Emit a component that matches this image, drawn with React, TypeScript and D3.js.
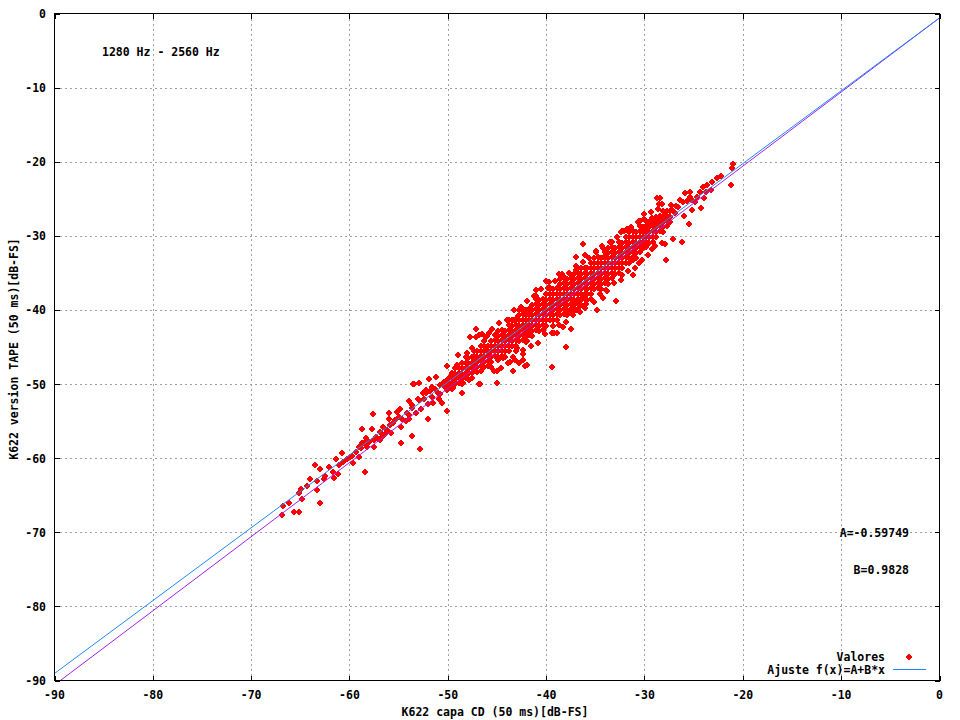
import React from 'react';
import * as d3 from 'd3';

const xTicks = [-90, -80, -70, -60, -50, -40, -30, -20, -10, 0];
const yTicks = [0, -10, -20, -30, -40, -50, -60, -70, -80, -90];
const fitA = -0.59749;
const fitB = 0.9828;
const refSlope = 1;
const titleText = '1280 Hz - 2560 Hz';
const xLabel = 'K622 capa CD (50 ms)[dB-FS]';
const yLabel = 'K622 version TAPE (50 ms)[dB-FS]';
const legendPoints = 'Valores';
const legendFit = 'Ajuste f(x)=A+B*x';

// [CD level, TAPE level]
const lowerTail: [number, number][] = [
  [-66.9, -67.7], [-65.1, -67.3], [-65.6, -67.3], [-66.8, -66.4], [-66.2, -66.1], [-64.8, -65.5], [-63.0, -66.1],
  [-65.1, -64.7], [-64.9, -64.2], [-64.3, -63.8], [-64.0, -62.8], [-63.3, -63.1], [-63.3, -64.3], [-63.5, -60.9],
  [-63.0, -61.5], [-62.1, -61.2], [-61.7, -61.8], [-61.2, -62.2], [-61.6, -62.7], [-62.5, -62.4], [-62.6, -62.8],
  [-61.4, -60.1], [-61.1, -60.9], [-60.7, -60.5], [-60.8, -59.3], [-60.3, -60.1], [-59.9, -59.9], [-59.6, -60.7],
  [-59.0, -59.9], [-58.4, -61.9], [-58.8, -58.6], [-58.5, -58.0], [-57.5, -58.5], [-59.7, -59.7], [-59.3, -59.2],
  [-59.0, -58.5], [-58.7, -58.0], [-58.2, -58.5], [-58.0, -57.8], [-57.5, -57.6], [-57.3, -57.2], [-56.7, -57.2],
  [-56.9, -56.5], [-58.7, -56.1], [-57.7, -56.1], [-58.3, -57.3], [-57.6, -54.1], [-56.2, -56.2], [-56.6, -55.8],
  [-55.9, -55.5], [-56.0, -54.7], [-55.4, -54.9], [-55.6, -55.3], [-56.0, -53.9], [-55.2, -53.8],
];

const lowerBand: [number, number][] = [
  [-54.9, -53.4], [-54.7, -54.7], [-54.8, -55.8], [-54.2, -53.9], [-53.9, -52.3], [-53.6, -52.8], [-53.6, -53.2],
  [-54.0, -54.7], [-53.6, -57.0], [-53.2, -53.9], [-52.9, -52.2], [-52.7, -53.4], [-52.9, -49.9], [-53.5, -50.0],
  [-52.0, -52.7], [-52.0, -54.7], [-52.5, -51.2], [-52.2, -50.8], [-52.2, -51.2], [-51.9, -49.3], [-51.6, -50.4],
  [-51.6, -51.8], [-51.2, -49.1], [-50.8, -50.1], [-50.8, -51.4], [-50.6, -52.6], [-50.1, -53.6], [-50.1, -50.8],
  [-50.1, -47.6], [-49.5, -50.5], [-49.1, -47.4], [-49.1, -49.1], [-49.0, -46.1], [-48.6, -51.2], [-48.5, -49.9],
  [-48.3, -48.8], [-48.1, -45.8], [-47.8, -48.5], [-47.8, -49.5], [-47.5, -45.1], [-47.1, -43.6], [-47.1, -47.7],
  [-46.7, -50.0], [-46.5, -43.2], [-46.5, -46.8], [-46.1, -45.4], [-46.0, -43.5], [-54.8, -58.0], [-52.8, -58.8],
  [-53.4, -50.0], [-46.8, -50.0], [-53.0, -52.0], [-52.4, -52.0], [-51.8, -51.0], [-51.3, -50.6], [-51.0, -51.2],
  [-50.4, -49.7], [-50.3, -50.4], [-49.8, -49.0], [-49.9, -50.0], [-49.4, -49.6], [-51.5, -52.6], [-50.9, -52.0],
  [-54.3, -55.0], [-53.9, -54.2], [-55.0, -54.5], [-55.8, -56.6], [-56.4, -56.8], [-56.9, -57.6],
];

// CD level and the TAPE levels measured at it (dense part of the cloud)
const coreBand: [number, number[]][] = [
  [-50.0, [-49.3, -50.0, -50.7]],
  [-49.6, [-48.5, -49.2, -49.9, -50.6]],
  [-49.3, [-47.9, -48.6, -49.3, -50.0]],
  [-48.9, [-47.8, -48.5, -49.2, -49.9]],
  [-48.6, [-47.2, -47.9, -48.6, -49.3, -50.0]],
  [-48.2, [-46.4, -47.1, -47.8, -48.5, -49.2]],
  [-47.9, [-46.5, -47.2, -47.9, -48.6, -49.3]],
  [-47.5, [-46.4, -47.1, -47.8, -48.5, -49.2]],
  [-47.3, [-45.5, -46.2, -46.9, -47.6, -48.3]],
  [-47.0, [-45.6, -46.3, -47.0, -47.7, -48.4]],
  [-46.6, [-44.8, -45.5, -46.2, -46.9, -47.6, -48.3]],
  [-46.3, [-44.2, -44.9, -45.6, -46.3, -47.0, -47.7]],
  [-45.9, [-44.8, -45.5, -46.2, -46.9, -47.6]],
  [-45.6, [-44.2, -44.9, -45.6, -46.3, -47.0, -47.7]],
  [-45.2, [-43.4, -44.1, -44.8, -45.5, -46.2]],
  [-44.9, [-42.8, -43.5, -44.2, -44.9, -45.6, -46.3]],
  [-44.5, [-42.7, -43.4, -44.1, -44.8, -45.5, -46.2]],
  [-44.2, [-42.8, -43.5, -44.2, -44.9, -45.6, -46.3]],
  [-43.8, [-41.3, -42.0, -42.7, -43.4, -44.1, -44.8, -45.5]],
  [-43.5, [-41.4, -42.1, -42.8, -43.5, -44.2, -44.9]],
  [-43.1, [-41.3, -42.0, -42.7, -43.4, -44.1, -44.8, -45.5]],
  [-42.8, [-40.0, -40.7, -41.4, -42.1, -42.8, -43.5, -44.2]],
  [-42.4, [-39.9, -40.6, -41.3, -42.0, -42.7, -43.4, -44.1]],
  [-42.1, [-40.0, -40.7, -41.4, -42.1, -42.8, -43.5, -44.2]],
  [-41.7, [-39.9, -40.6, -41.3, -42.0, -42.7, -43.4]],
  [-41.4, [-39.3, -40.0, -40.7, -41.4, -42.1, -42.8, -43.5]],
  [-41.0, [-38.5, -39.2, -39.9, -40.6, -41.3, -42.0, -42.7]],
  [-40.7, [-38.6, -39.3, -40.0, -40.7, -41.4, -42.1, -42.8]],
  [-40.3, [-38.5, -39.2, -39.9, -40.6, -41.3, -42.0, -42.7]],
  [-40.0, [-37.9, -38.6, -39.3, -40.0, -40.7, -41.4, -42.1]],
  [-39.6, [-37.1, -37.8, -38.5, -39.2, -39.9, -40.6, -41.3]],
  [-39.3, [-37.2, -37.9, -38.6, -39.3, -40.0, -40.7, -41.4, -42.1]],
  [-38.9, [-37.1, -37.8, -38.5, -39.2, -39.9, -40.6, -41.3]],
  [-38.6, [-35.8, -36.5, -37.2, -37.9, -38.6, -39.3, -40.0, -40.7]],
  [-38.2, [-35.7, -36.4, -37.1, -37.8, -38.5, -39.2, -39.9, -40.6]],
  [-37.9, [-35.8, -36.5, -37.2, -37.9, -38.6, -39.3, -40.0, -40.7]],
  [-37.5, [-35.7, -36.4, -37.1, -37.8, -38.5, -39.2, -39.9]],
  [-37.2, [-35.1, -35.8, -36.5, -37.2, -37.9, -38.6, -39.3]],
  [-36.8, [-34.3, -35.0, -35.7, -36.4, -37.1, -37.8, -38.5, -39.2, -39.9]],
  [-36.5, [-34.4, -35.1, -35.8, -36.5, -37.2, -37.9, -38.6, -39.3]],
  [-36.1, [-34.3, -35.0, -35.7, -36.4, -37.1, -37.8, -38.5]],
  [-35.8, [-34.4, -35.1, -35.8, -36.5, -37.2, -37.9, -38.6]],
  [-35.4, [-33.6, -34.3, -35.0, -35.7, -36.4, -37.1, -37.8, -38.5]],
  [-35.1, [-33.0, -33.7, -34.4, -35.1, -35.8, -36.5, -37.2]],
  [-34.7, [-32.9, -33.6, -34.3, -35.0, -35.7, -36.4, -37.1]],
  [-34.4, [-33.0, -33.7, -34.4, -35.1, -35.8, -36.5, -37.2]],
  [-34.0, [-32.2, -32.9, -33.6, -34.3, -35.0, -35.7, -36.4]],
  [-33.7, [-31.6, -32.3, -33.0, -33.7, -34.4, -35.1, -35.8, -36.5]],
  [-33.3, [-31.5, -32.2, -32.9, -33.6, -34.3, -35.0, -35.7]],
  [-33.0, [-31.6, -32.3, -33.0, -33.7, -34.4, -35.1]],
  [-32.6, [-30.8, -31.5, -32.2, -32.9, -33.6, -34.3, -35.0]],
  [-32.3, [-30.9, -31.6, -32.3, -33.0, -33.7, -34.4]],
  [-31.9, [-30.1, -30.8, -31.5, -32.2, -32.9, -33.6]],
  [-31.6, [-29.5, -30.2, -30.9, -31.6, -32.3, -33.0, -33.7]],
  [-31.2, [-29.4, -30.1, -30.8, -31.5, -32.2, -32.9]],
  [-30.9, [-29.5, -30.2, -30.9, -31.6, -32.3, -33.0]],
  [-30.5, [-28.7, -29.4, -30.1, -30.8, -31.5, -32.2]],
  [-30.2, [-28.8, -29.5, -30.2, -30.9, -31.6]],
  [-29.8, [-28.0, -28.7, -29.4, -30.1, -30.8, -31.5]],
  [-29.5, [-28.1, -28.8, -29.5, -30.2, -30.9]],
  [-29.1, [-28.0, -28.7, -29.4, -30.1, -30.8]],
  [-28.8, [-27.4, -28.1, -28.8, -29.5, -30.2]],
  [-28.4, [-27.3, -28.0, -28.7, -29.4]],
  [-28.1, [-26.7, -27.4, -28.1, -28.8, -29.5]],
  [-27.7, [-26.6, -27.3, -28.0, -28.7]],
  [-27.4, [-26.7, -27.4, -28.1]],
];

// points along the upper and lower edges of the dense band
const upperEdge: [number, number][] = [
  [-45.5, -42.6], [-44.8, -41.8], [-44.0, -41.3], [-43.3, -40.0], [-42.6, -39.6], [-41.9, -38.8], [-41.2, -38.1],
  [-40.5, -37.2], [-39.8, -37.0], [-39.1, -36.1], [-38.4, -35.2], [-37.7, -35.0], [-37.0, -34.1], [-36.3, -33.5],
  [-35.6, -33.0], [-34.9, -32.2], [-34.2, -31.7], [-33.5, -30.8], [-32.8, -30.2], [-32.1, -29.4], [-31.4, -28.8],
  [-30.7, -28.1], [-30.0, -27.7], [-29.3, -26.8], [-28.6, -26.4],
];

const lowerEdge: [number, number][] = [
  [-45.3, -48.3], [-44.6, -47.9], [-43.9, -47.1], [-43.2, -46.7], [-41.5, -44.8], [-40.8, -44.4], [-40.1, -43.3],
  [-39.4, -43.1], [-38.7, -42.0], [-38.0, -41.6], [-37.3, -40.7], [-36.6, -40.3], [-35.9, -39.2], [-35.2, -38.8],
  [-34.5, -37.8], [-33.8, -37.5], [-33.1, -36.4], [-32.4, -35.9], [-31.7, -34.8], [-31.0, -34.3], [-30.3, -33.2],
  [-29.6, -32.6], [-28.9, -31.4], [-28.2, -30.9],
];

const midOutliers: [number, number][] = [
  [-47.1, -42.6], [-47.7, -43.6], [-46.8, -43.4], [-45.0, -48.2], [-45.0, -49.9], [-43.4, -48.2], [-42.4, -45.9],
  [-42.8, -47.2], [-42.2, -47.6], [-43.0, -45.1], [-41.9, -44.2], [-39.2, -43.1], [-38.3, -42.3], [-37.5, -42.6],
  [-38.0, -45.0], [-39.4, -47.7], [-37.2, -40.0], [-36.9, -39.1], [-36.1, -38.2], [-35.1, -38.9], [-34.8, -40.0],
  [-40.0, -36.1], [-38.7, -35.1], [-41.0, -37.3], [-41.0, -38.1], [-36.3, -31.1], [-37.0, -32.8], [-36.1, -32.6],
  [-34.9, -32.0], [-34.3, -31.4], [-34.1, -32.8], [-31.2, -33.2], [-31.2, -35.3], [-32.3, -35.3], [-34.0, -36.4],
  [-33.9, -37.3], [-32.9, -38.8], [-34.2, -38.4], [-36.1, -39.7], [-37.0, -40.0], [-37.6, -40.3], [-38.9, -43.1],
  [-39.7, -36.2], [-42.5, -39.9], [-43.3, -41.4], [-42.9, -40.8], [-46.1, -43.6], [-45.8, -43.1], [-42.1, -44.3],
  [-42.4, -45.4], [-43.4, -46.4], [-42.4, -46.8], [-42.0, -47.4], [-44.4, -46.5], [-44.9, -46.8], [-43.7, -47.0],
  [-45.8, -46.1], [-38.3, -35.4], [-37.0, -34.6],
];

const upperTail: [number, number][] = [
  [-21.0, -20.3], [-21.1, -20.9], [-21.2, -23.1], [-23.1, -22.8], [-23.6, -23.1], [-24.1, -23.4], [-23.7, -24.1],
  [-24.4, -24.1], [-24.7, -24.7], [-25.4, -24.1], [-25.9, -24.2], [-25.4, -24.7], [-25.2, -25.1], [-25.7, -25.3],
  [-26.1, -25.5], [-26.4, -25.1], [-26.6, -26.1], [-27.2, -26.5], [-25.2, -26.5], [-24.3, -26.2], [-26.0, -27.3],
  [-25.5, -28.4], [-27.3, -25.8], [-28.4, -24.9], [-28.2, -25.7], [-28.5, -25.7], [-28.7, -24.9], [-30.1, -27.0],
  [-30.6, -28.0], [-29.2, -27.6], [-28.8, -27.6], [-29.3, -28.1], [-27.9, -27.2], [-27.5, -27.4], [-28.2, -28.1],
  [-28.5, -28.5], [-27.7, -27.8], [-27.1, -30.4], [-26.2, -30.8], [-27.9, -31.1], [-29.2, -31.8], [-30.0, -30.9],
  [-32.3, -29.3], [-31.8, -29.1], [-31.5, -28.9], [-32.4, -29.5], [-33.3, -30.8], [-30.5, -28.0], [-27.8, -33.2],
  [-30.6, -33.6], [-26.8, -26.0], [-24.9, -25.5], [-26.9, -26.9], [-23.9, -24.9], [-22.6, -22.2], [-22.2, -21.9],
  [-23.2, -23.8],
];

const FONT = '"DejaVu Sans Mono", monospace';

export default function App() {
  const W = 960;
  const H = 720;
  const x = d3.scaleLinear().domain([-90, 0]).range([54.5, 939.5]);
  const y = d3.scaleLinear().domain([-90, 0]).range([680.5, 13.5]);
  const [x0, x1] = x.range();
  const [y0, y1] = y.range();

  const allPoints: [number, number][] = [
    ...lowerTail,
    ...lowerBand,
    ...coreBand.flatMap(([cd, tapes]) => tapes.map((t) => [cd, t] as [number, number])),
    ...upperEdge,
    ...lowerEdge,
    ...midOutliers,
    ...upperTail,
  ];

  const fitLine = d3.line<number>().x((v) => x(v)).y((v) => y(fitA + fitB * v));
  const refLine = d3.line<number>().x((v) => x(v)).y((v) => y(fitA + refSlope * v));
  const domainXs = [-90, 0];

  const r = 3.6;
  const diamond = (cx: number, cy: number) =>
    `M${cx},${cy - r}L${cx + r},${cy}L${cx},${cy + r}L${cx - r},${cy}Z`;

  const gridColor = '#a0a0a0';
  const textStyle: React.CSSProperties = { fontFamily: FONT, fontWeight: 'bold', fontSize: 11.5 };

  return (
    <svg
      width={W}
      height={H}
      style={{ position: 'absolute', left: 0, top: 0, background: '#fff' }}
      xmlns="http://www.w3.org/2000/svg"
    >
      <defs>
        <clipPath id="plotClip">
          <rect x={x0} y={y1} width={x1 - x0} height={y0 - y1} />
        </clipPath>
      </defs>
      <rect x={0} y={0} width={W} height={H} fill="#fff" />

      {/* grid */}
      <g stroke={gridColor} strokeWidth={1} strokeDasharray="2,3" shapeRendering="crispEdges">
        {xTicks.slice(1, -1).map((t) => (
          <line key={'gx' + t} x1={Math.round(x(t)) + 0.5} x2={Math.round(x(t)) + 0.5} y1={y1} y2={y0} />
        ))}
        {yTicks.slice(1, -1).map((t) => (
          <line key={'gy' + t} x1={x0} x2={x1} y1={Math.round(y(t)) + 0.5} y2={Math.round(y(t)) + 0.5} />
        ))}
      </g>

      {/* data points */}
      <g fill="#ff0000" shapeRendering="crispEdges" clipPath="url(#plotClip)">
        {allPoints.map(([cd, tape], i) => (
          <path key={i} d={diamond(Math.round(x(cd)), Math.round(y(tape)))} />
        ))}
      </g>

      {/* lines */}
      <g clipPath="url(#plotClip)" fill="none" strokeWidth={1}>
        <path d={refLine(domainXs) || ''} stroke="#a020f0" />
        <path d={fitLine(domainXs) || ''} stroke="#1e88ff" />
      </g>

      {/* border */}
      <rect x={x0} y={y1} width={x1 - x0} height={y0 - y1} fill="none" stroke="#000" strokeWidth={1} shapeRendering="crispEdges" />

      {/* ticks */}
      <g stroke="#000" strokeWidth={1} shapeRendering="crispEdges">
        {xTicks.map((t) => {
          const px = Math.round(x(t)) + 0.5;
          return (
            <g key={'tx' + t}>
              <line x1={px} x2={px} y1={y0} y2={y0 - 5} />
              <line x1={px} x2={px} y1={y1} y2={y1 + 5} />
            </g>
          );
        })}
        {yTicks.map((t) => {
          const py = Math.round(y(t)) + 0.5;
          return (
            <g key={'ty' + t}>
              <line x1={x0} x2={x0 + 5} y1={py} y2={py} />
              <line x1={x1} x2={x1 - 5} y1={py} y2={py} />
            </g>
          );
        })}
      </g>

      {/* tick labels */}
      <g style={textStyle} fill="#000">
        {xTicks.map((t) => (
          <text key={'lx' + t} x={x(t)} y={699} textAnchor="middle">
            {t}
          </text>
        ))}
        {yTicks.map((t) => (
          <text key={'ly' + t} x={46} y={y(t) + 4.5} textAnchor="end">
            {t}
          </text>
        ))}
      </g>

      {/* axis labels */}
      <text x={495} y={716} textAnchor="middle" style={textStyle}>
        {xLabel}
      </text>
      <text transform={`translate(18,349) rotate(-90)`} textAnchor="middle" style={textStyle}>
        {yLabel}
      </text>

      {/* annotations */}
      <text x={102} y={56} style={textStyle}>
        {titleText}
      </text>
      <text x={909} y={537} textAnchor="end" style={textStyle}>
        {`A=${fitA}`}
      </text>
      <text x={909} y={574} textAnchor="end" style={textStyle}>
        {`B=${fitB}`}
      </text>

      {/* legend */}
      <text x={885} y={661} textAnchor="end" style={textStyle}>
        {legendPoints}
      </text>
      <path d={diamond(909, 657)} fill="#ff0000" shapeRendering="crispEdges" />
      <text x={885} y={674} textAnchor="end" style={textStyle}>
        {legendFit}
      </text>
      <line x1={893} x2={926} y1={669.5} y2={669.5} stroke="#1e88ff" strokeWidth={1} />
    </svg>
  );
}
